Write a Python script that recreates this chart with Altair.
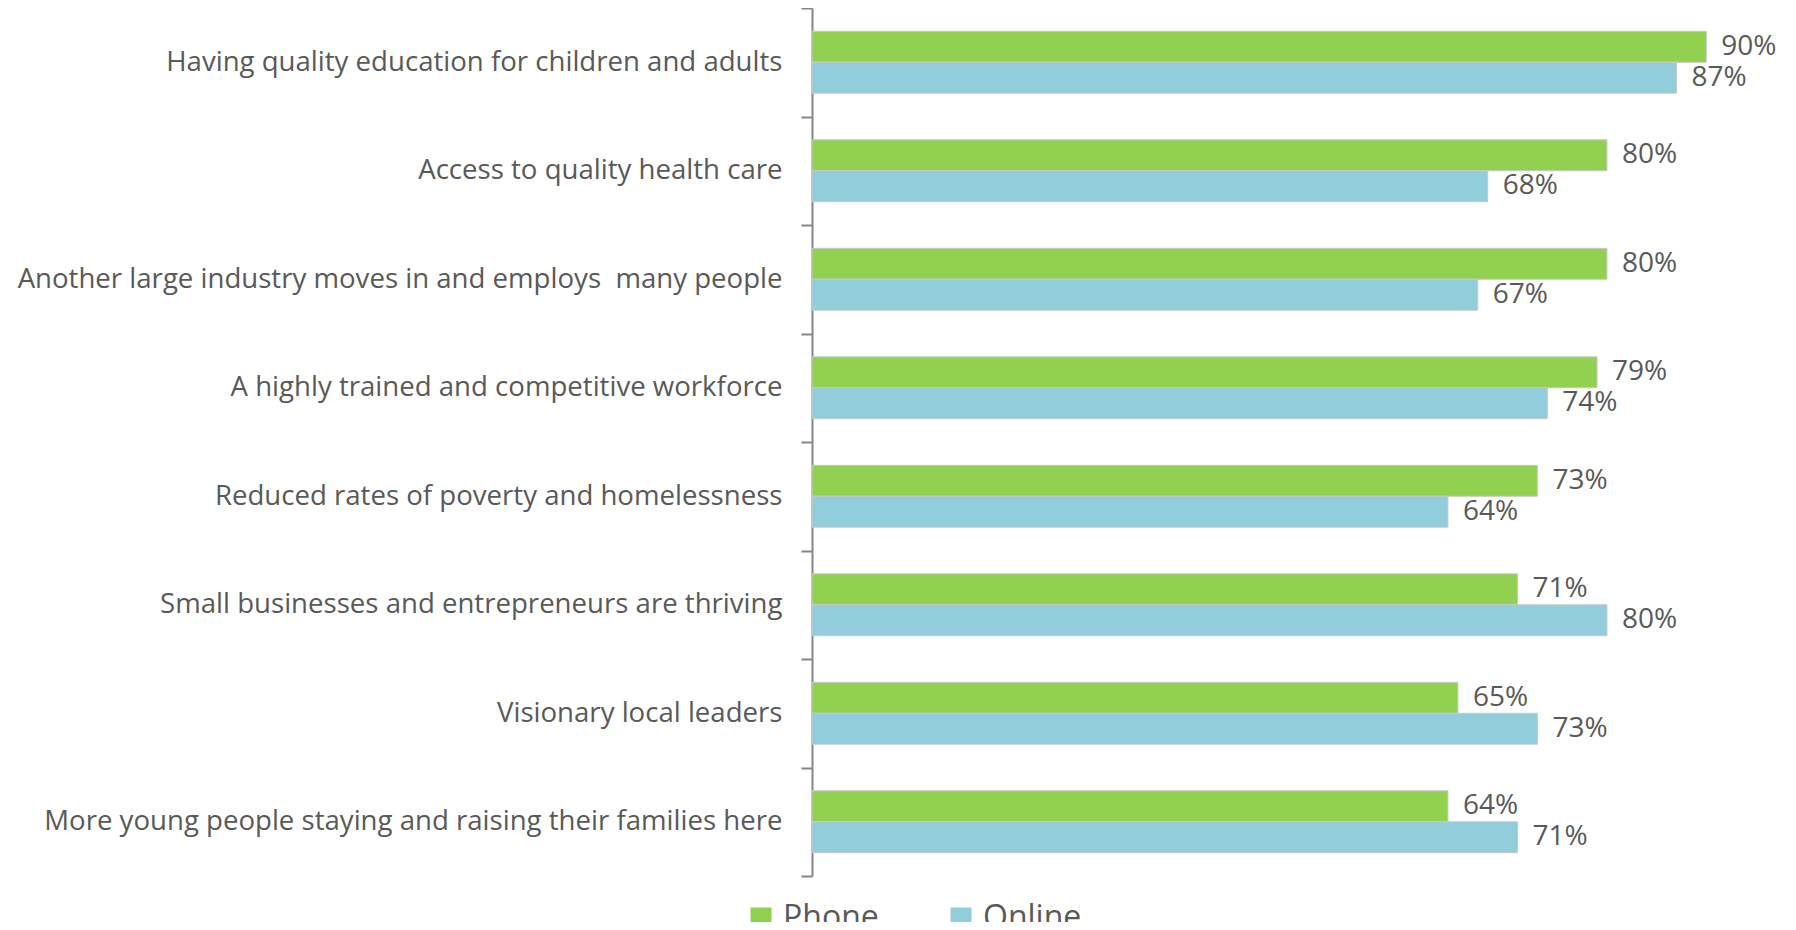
import altair as alt
import pandas as pd

categories = [
    "Having quality education for children and adults",
    "Access to quality health care",
    "Another large industry moves in and employs \u00a0many people",
    "A highly trained and competitive workforce",
    "Reduced rates of poverty and homelessness",
    "Small businesses and entrepreneurs are thriving",
    "Visionary local leaders",
    "More young people staying and raising their families here",
]
phone = [90, 80, 80, 79, 73, 71, 65, 64]
online = [87, 68, 67, 74, 64, 80, 73, 71]
series = ["Phone", "Online"]
colors = ["#92D050", "#92CDDC"]

rows = []
for c, p, o in zip(categories, phone, online):
    rows.append({"cat": c, "series": "Phone", "value": p, "label": f"{p}%"})
    rows.append({"cat": c, "series": "Online", "value": o, "label": f"{o}%"})
df = pd.DataFrame(rows)

FONT = "Open Sans"
GREY = "#595959"

y_enc = alt.Y(
    "cat:N",
    sort=categories,
    title=None,
    scale=alt.Scale(paddingInner=0, paddingOuter=0),
    axis=alt.Axis(
        labelFont=FONT, labelFontSize=27.6, labelColor=GREY, labelLimit=900,
        labelPadding=19, tickSize=11, tickColor="#868686", tickWidth=2,
        domainColor="#868686", domainWidth=2, tickBand="extent", grid=False,
    ),
)
yoff = alt.YOffset("series:N", sort=series, scale=alt.Scale(paddingInner=0, paddingOuter=0.754))
x_enc = alt.X("value:Q", scale=alt.Scale(domain=[0, 95], nice=False, zero=True), axis=None)

base = alt.Chart(df)
bars = base.mark_bar(stroke="#C8C8C8", strokeWidth=1).encode(
    x=x_enc, y=y_enc, yOffset=yoff,
    color=alt.Color(
        "series:N", sort=series,
        scale=alt.Scale(domain=series, range=colors),
        legend=alt.Legend(
            title=None, orient="none", legendX=-67, legendY=894, direction="horizontal",
            symbolType="square", symbolSize=441, symbolStrokeWidth=0,
            labelFont=FONT, labelFontSize=32, labelColor=GREY, labelOffset=6,
            columnPadding=66, padding=0,
        ),
    ),
)
text = base.mark_text(align="left", baseline="middle", dx=15, font=FONT, fontSize=28, color=GREY).encode(
    x=x_enc, y=alt.Y("cat:N", sort=categories), yOffset=yoff, text="label:N",
)

chart = (bars + text).properties(
    width=944, height=868,
    autosize=alt.AutoSizeParams(type="none"),
    padding={"left": 804, "top": 0, "right": 32, "bottom": 46},
).configure_view(stroke=None)

chart.save("out.html", embed_options={"renderer": "svg", "actions": False})
